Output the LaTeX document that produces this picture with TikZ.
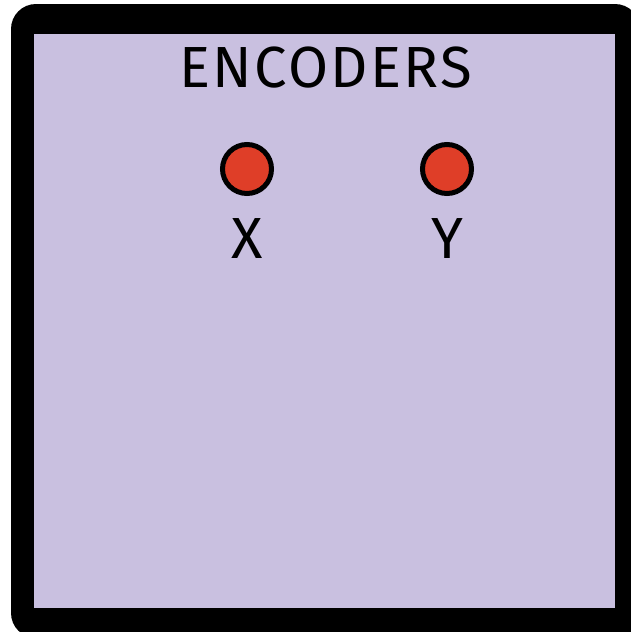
\documentclass[tikz,border=0pt]{standalone}
\usepackage{fontspec}
\setmainfont{Fira Sans}
\newfontfamily\spacedfont[LetterSpace=4]{Fira Sans}
\usepackage{xcolor}
\definecolor{panelfill}{HTML}{C9C0E0}
\definecolor{ledred}{HTML}{DF3E28}

\begin{document}
\begin{tikzpicture}[x=1pt,y=-1pt,
  led/.style={circle,draw=black,fill=ledred,line width=5pt,minimum size=49pt,inner sep=0pt},
  lbl/.style={anchor=base,inner sep=0pt,font=\fontsize{58}{60}\selectfont}]
\useasboundingbox (0,0) rectangle (631,632);
\fill[black,rounded corners=25pt] (11,4) rectangle (640,638);
\fill[panelfill] (34,34) rectangle (615,608);

\node[lbl,font=\spacedfont\fontsize{58}{60}\selectfont] (title) at (326,87) {ENCODERS};

\node[led] (encx) at (247,169) {};
\node[led] (ency) at (447,169) {};
\node[lbl] (labx) at (247,258) {X};
\node[lbl] (laby) at (447,258) {Y};
\end{tikzpicture}
\end{document}
